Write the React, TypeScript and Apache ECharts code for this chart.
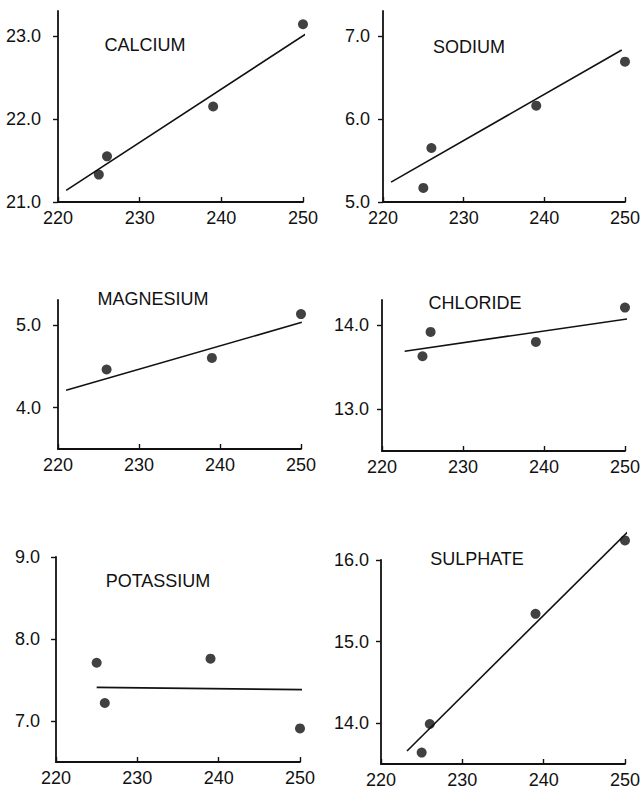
import React, { useEffect, useRef } from "react";
import * as echarts from "echarts";

// ---- data ----
const xTicks = [220, 230, 240, 250];
const titles = ["CALCIUM", "SODIUM", "MAGNESIUM", "CHLORIDE", "POTASSIUM", "SULPHATE"];

const calciumX = [225, 226, 239, 250];
const calciumY = [21.33, 21.55, 22.15, 23.14];
const calciumFitX = [221, 251.7];
const calciumFitY = [21.14, 23.11];
const calciumTicks = [21, 22, 23];
const calciumRange = [21, 23.3];

const sodiumX = [225, 226, 239, 250];
const sodiumY = [5.17, 5.65, 6.16, 6.69];
const sodiumFitX = [221, 249.6];
const sodiumFitY = [5.24, 6.83];
const sodiumTicks = [5, 6, 7];
const sodiumRange = [5, 7.3];

const magnesiumX = [226, 239, 250];
const magnesiumY = [4.46, 4.6, 5.13];
const magnesiumFitX = [221, 250.1];
const magnesiumFitY = [4.21, 5.03];
const magnesiumTicks = [4, 5];
const magnesiumRange = [3.5, 5.3];

const chlorideX = [225, 226, 239, 250];
const chlorideY = [13.63, 13.92, 13.8, 14.21];
const chlorideFitX = [222.8, 252.1];
const chlorideFitY = [13.69, 14.1];
const chlorideTicks = [13, 14];
const chlorideRange = [12.5, 14.3];

const potassiumX = [225, 226, 239, 250];
const potassiumY = [7.71, 7.22, 7.76, 6.91];
const potassiumFitX = [225, 252.5];
const potassiumFitY = [7.41, 7.38];
const potassiumTicks = [7, 8, 9];
const potassiumRange = [6.5, 9];

const sulphateX = [225, 226, 239, 250];
const sulphateY = [13.64, 13.99, 15.34, 16.24];
const sulphateFitX = [223.2, 251.2];
const sulphateFitY = [13.66, 16.43];
const sulphateTicks = [14, 15, 16];
const sulphateRange = [13.5, 16];

const panels = [
  { x: calciumX, y: calciumY, fx: calciumFitX, fy: calciumFitY, ticks: calciumTicks, range: calciumRange },
  { x: sodiumX, y: sodiumY, fx: sodiumFitX, fy: sodiumFitY, ticks: sodiumTicks, range: sodiumRange },
  { x: magnesiumX, y: magnesiumY, fx: magnesiumFitX, fy: magnesiumFitY, ticks: magnesiumTicks, range: magnesiumRange },
  { x: chlorideX, y: chlorideY, fx: chlorideFitX, fy: chlorideFitY, ticks: chlorideTicks, range: chlorideRange },
  { x: potassiumX, y: potassiumY, fx: potassiumFitX, fy: potassiumFitY, ticks: potassiumTicks, range: potassiumRange },
  { x: sulphateX, y: sulphateY, fx: sulphateFitX, fy: sulphateFitY, ticks: sulphateTicks, range: sulphateRange },
];

// ---- layout ----
const grids = [
  { left: 58, top: 11, width: 245, height: 191, labelMargin: 17 },
  { left: 383, top: 11, width: 243, height: 191, labelMargin: 13 },
  { left: 58, top: 300, width: 243, height: 149, labelMargin: 17 },
  { left: 382, top: 300, width: 244, height: 151, labelMargin: 13 },
  { left: 56, top: 557, width: 244, height: 205, labelMargin: 16 },
  { left: 381, top: 560, width: 244, height: 204, labelMargin: 12 },
];
const titlePos = [
  { x: 145, y: 45 },
  { x: 469, y: 47 },
  { x: 153, y: 299 },
  { x: 475, y: 303 },
  { x: 158, y: 581 },
  { x: 477, y: 559 },
];

const FONT = "'Liberation Sans', Arial, Helvetica, sans-serif";

export default function App() {
  const ref = useRef<HTMLDivElement>(null);
  useEffect(() => {
    if (!ref.current) return;
    const chart = echarts.init(ref.current, null, { renderer: "svg" });
    const axisLine = { show: true, lineStyle: { color: "#111", width: 1.8 } };
    const option: any = {
      animation: false,
      backgroundColor: "#fff",
      grid: grids.map((g) => ({ left: g.left, top: g.top, width: g.width, height: g.height, containLabel: false })),
      xAxis: panels.map((p, i) => ({
        type: "value",
        gridIndex: i,
        min: 220,
        max: 250,
        axisLine,
        axisTick: { show: true, inside: true, length: 5, customValues: xTicks, lineStyle: { color: "#111", width: 1.4 } },
        axisLabel: {
          customValues: xTicks,
          margin: 7,
          color: "#111",
          fontSize: 18,
          fontFamily: FONT,
          formatter: (v: number) => String(v),
        },
        splitLine: { show: false },
      })),
      yAxis: panels.map((p, i) => ({
        type: "value",
        gridIndex: i,
        min: p.range[0],
        max: p.range[1],
        axisLine,
        axisTick: { show: true, inside: false, length: 5, customValues: p.ticks, lineStyle: { color: "#111", width: 1.4 } },
        axisLabel: {
          customValues: p.ticks,
          margin: grids[i].labelMargin,
          color: "#111",
          fontSize: 18,
          fontFamily: FONT,
          formatter: (v: number) => v.toFixed(1),
        },
        splitLine: { show: false },
      })),
      series: panels.flatMap((p, i) => [
        {
          type: "line",
          xAxisIndex: i,
          yAxisIndex: i,
          data: p.fx.map((v, k) => [v, p.fy[k]]),
          showSymbol: false,
          symbol: "none",
          clip: false,
          lineStyle: { color: "#111", width: 1.6 },
          silent: true,
        },
        {
          type: "scatter",
          xAxisIndex: i,
          yAxisIndex: i,
          data: p.x.map((v, k) => [v, p.y[k]]),
          symbol: "circle",
          symbolSize: 10,
          clip: false,
          itemStyle: { color: "#111" },
          silent: true,
        },
      ]),
      graphic: titles.map((t, i) => ({
        type: "text",
        x: titlePos[i].x,
        y: titlePos[i].y,
        style: {
          text: t,
          fill: "#111",
          fontSize: 18,
          fontFamily: FONT,
          textAlign: "center",
          textVerticalAlign: "middle",
        },
      })),
    };
    chart.setOption(option);
    return () => chart.dispose();
  }, []);
  return (
    <div
      ref={ref}
      style={{ position: "fixed", left: 0, top: 0, width: 643, height: 792, background: "#fff" }}
    />
  );
}
